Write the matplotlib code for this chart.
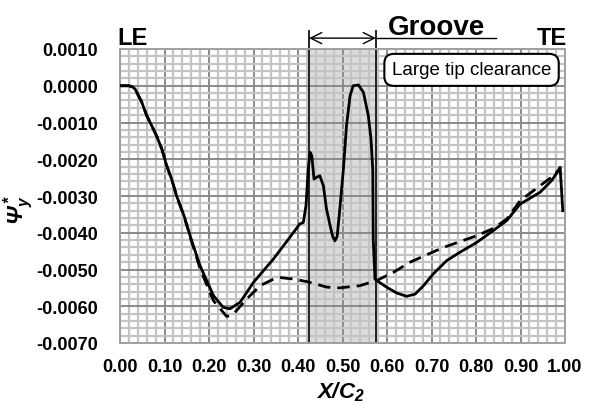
import numpy as np
import matplotlib
matplotlib.use("Agg")
from matplotlib import pyplot as plt

plt.rcParams['font.family'] = ['Liberation Sans', 'DejaVu Sans']
plt.rcParams['mathtext.fontset'] = 'custom'
plt.rcParams['mathtext.rm'] = 'Liberation Sans:bold:italic'
plt.rcParams['mathtext.it'] = 'Liberation Sans:bold:italic'
plt.rcParams['mathtext.bf'] = 'Liberation Sans:bold:italic'

# ---- solid line
x_solid = [0.000, 0.020, 0.028, 0.034, 0.049, 0.060, 0.071, 0.082, 0.094, 0.105,
           0.116, 0.127, 0.144, 0.160, 0.180, 0.210, 0.232, 0.247, 0.270, 0.300,
           0.345, 0.382, 0.404, 0.412, 0.418, 0.423, 0.427, 0.431, 0.436, 0.442,
           0.449, 0.457, 0.464, 0.472, 0.478, 0.483, 0.488, 0.494, 0.502, 0.509,
           0.517, 0.524, 0.536, 0.547, 0.558, 0.564, 0.568, 0.569, 0.573, 0.577,
           0.599, 0.622, 0.644, 0.663, 0.682, 0.704, 0.734, 0.764, 0.802, 0.839,
           0.869, 0.899, 0.944, 0.970, 0.985, 0.989, 0.992, 0.995]
y_solid = [0.00000, 0.00000, -0.00003, -0.00009, -0.00045, -0.00081, -0.00108, -0.00136, -0.00172, -0.00218,
           -0.00254, -0.00299, -0.00354, -0.00418, -0.00490, -0.00571, -0.00603, -0.00607, -0.00589, -0.00535,
           -0.00471, -0.00412, -0.00376, -0.00372, -0.00326, -0.00227, -0.00181, -0.00190, -0.00254, -0.00249,
           -0.00245, -0.00272, -0.00335, -0.00380, -0.00410, -0.00422, -0.00410, -0.00335, -0.00227, -0.00109,
           -0.00027, 0.00000, 0.00002, -0.00018, -0.00081, -0.00145, -0.00227, -0.00417, -0.00526, -0.00530,
           -0.00548, -0.00564, -0.00573, -0.00567, -0.00544, -0.00512, -0.00476, -0.00453, -0.00426, -0.00394,
           -0.00367, -0.00322, -0.00290, -0.00258, -0.00231, -0.00222, -0.00281, -0.00340]

# ---- dashed line
x_dash = [0.000, 0.020, 0.028, 0.034, 0.049, 0.060, 0.071, 0.082, 0.094, 0.105,
          0.116, 0.127, 0.144, 0.160, 0.180, 0.210, 0.240, 0.255, 0.285, 0.315,
          0.345, 0.360, 0.390, 0.420, 0.465, 0.494, 0.539, 0.577, 0.614, 0.652,
          0.689, 0.727, 0.764, 0.802, 0.839, 0.869, 0.899, 0.944, 0.974, 0.987]
y_dash = [0.00000, 0.00000, -0.00003, -0.00009, -0.00045, -0.00081, -0.00108, -0.00136, -0.00172, -0.00218,
          -0.00254, -0.00299, -0.00356, -0.00420, -0.00498, -0.00585, -0.00628, -0.00621, -0.00580, -0.00544,
          -0.00526, -0.00522, -0.00526, -0.00533, -0.00548, -0.00550, -0.00544, -0.00530, -0.00508, -0.00480,
          -0.00460, -0.00440, -0.00424, -0.00408, -0.00388, -0.00363, -0.00313, -0.00272, -0.00245, -0.00227]

x_ticks = [0.0, 0.1, 0.2, 0.3, 0.4, 0.5, 0.6, 0.7, 0.8, 0.9, 1.0]
y_ticks = [0.001, 0.0, -0.001, -0.002, -0.003, -0.004, -0.005, -0.006, -0.007]
groove = (0.425, 0.575)

fig = plt.figure(figsize=(5.9, 4.06), dpi=100)
ax = fig.add_axes([120 / 590, 1 - 344 / 406, 445 / 590, 294 / 406])

ax.set_xlim(0, 1)
ax.set_ylim(-0.007, 0.001)
ax.set_xticks(x_ticks)
ax.set_yticks(y_ticks)
ax.set_xticks(np.arange(0, 1.0001, 0.02), minor=True)
ax.set_yticks(np.arange(-0.007, 0.00101, 0.0002), minor=True)
ax.set_xticklabels([f"{v:.2f}" for v in x_ticks])
ax.set_yticklabels([f"{v:.4f}".replace("-0.0000", "0.0000") for v in y_ticks])
ax.tick_params(which='both', length=0)
ax.tick_params(axis='x', pad=11)
ax.tick_params(axis='y', pad=16)
for lab in ax.get_xticklabels() + ax.get_yticklabels():
    lab.set_fontsize(13)
    lab.set_fontweight('bold')

ax.grid(which='minor', color='#c4c4c4', lw=1.6, zorder=0)
ax.grid(which='major', color='#8a8a8a', lw=1.4, zorder=0)
ax.set_axisbelow(True)
for s in ax.spines.values():
    s.set_color('#a0a0a0')
    s.set_linewidth(1.4)

# groove region
ax.axvspan(groove[0], groove[1], color='#cfcfcf', alpha=0.75, zorder=0.5, lw=0)
trans = ax.get_xaxis_transform()
for gx in groove:
    ax.plot([gx, gx], [0, 1.061], color='#222222', lw=1.4, transform=trans, clip_on=False, zorder=2)
ax.annotate('', xy=(groove[0], 1.037), xytext=(groove[1], 1.037), xycoords=trans,
            arrowprops=dict(arrowstyle='<->', color='black', lw=1.0, mutation_scale=20,
                            shrinkA=0, shrinkB=0))
ax.plot([groove[1], 0.845], [1.037, 1.037], color='black', lw=1.0, transform=trans, clip_on=False)
ax.text(0.712, 1.051, 'Groove', transform=ax.transAxes, ha='center', va='baseline',
        fontsize=20, fontweight='bold')
ax.text(-0.007, 1.017, 'LE', transform=ax.transAxes, ha='left', va='baseline',
        fontsize=17, fontweight='bold')
ax.text(1.004, 1.017, 'TE', transform=ax.transAxes, ha='right', va='baseline',
        fontsize=17, fontweight='bold')
ax.text(0.790, 0.929, 'Large tip clearance', transform=ax.transAxes, ha='center', va='center',
        fontsize=13.5, zorder=5,
        bbox=dict(boxstyle='round,pad=0.4,rounding_size=0.5', fc='white', ec='black', lw=1.5))

ax.plot(x_dash, y_dash, color='black', lw=2.0, ls=(0, (4.5, 2.5)), zorder=3)
ax.plot(x_solid, y_solid, color='black', lw=2.0, zorder=4)

fig.text(19 / 590, 1 - 210 / 406, r'$\Psi_y^*$', rotation=90, ha='center', va='center', fontsize=16)
fig.text(340 / 590, 1 - 398 / 406, r'$X/C_2$', ha='center', va='baseline', fontsize=16)

fig.savefig('out.png', dpi=100)
